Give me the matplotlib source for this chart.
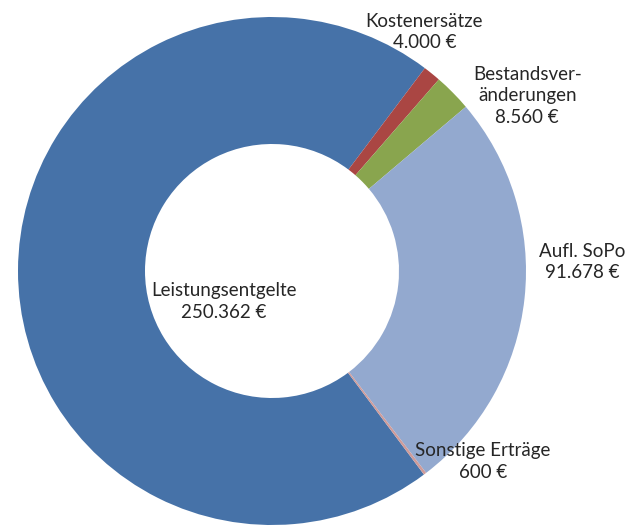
import matplotlib.pyplot as plt

plt.rcParams['font.family'] = ['Lato', 'DejaVu Sans']

# slices in clockwise order, starting with Leistungsentgelte
names  = ['Leistungsentgelte', 'Kostenersätze', 'Bestandsver-\nänderungen', 'Aufl. SoPo', 'Sonstige Erträge']
values = [250362, 4000, 8560, 91678, 600]
labels = ['250.362 €', '4.000 €', '8.560 €', '91.678 €', '600 €']
colors = ['#4672A8', '#AA4643', '#89A54E', '#93A9CF', '#CE9B9A']

# label anchor (data units, radius = 1)
label_pos = [(-0.19, -0.12), (0.60, 0.94), (1.005, 0.69), (1.22, 0.035), (0.83, -0.75)]

fig = plt.figure(figsize=(6.32, 5.29), dpi=100)
ax = fig.add_axes([0, 0, 1, 1])

total = sum(values)
start = 53 + values[0] / total * 360
ax.pie(values, colors=colors, startangle=start, counterclock=False,
       radius=1, wedgeprops=dict(width=0.5, linewidth=0))

for n, l, (x, y) in zip(names, labels, label_pos):
    ax.text(x, y, n + '\n' + l, ha='center', va='center', fontsize=13.5,
            color='#262626', linespacing=1.32)

ax.set_xlim(-272 / 254, (632 - 272) / 254)
ax.set_ylim((271 - 529) / 254, 271 / 254)
ax.set_aspect('auto')
ax.axis('off')

fig.savefig('out.png', dpi=100)
